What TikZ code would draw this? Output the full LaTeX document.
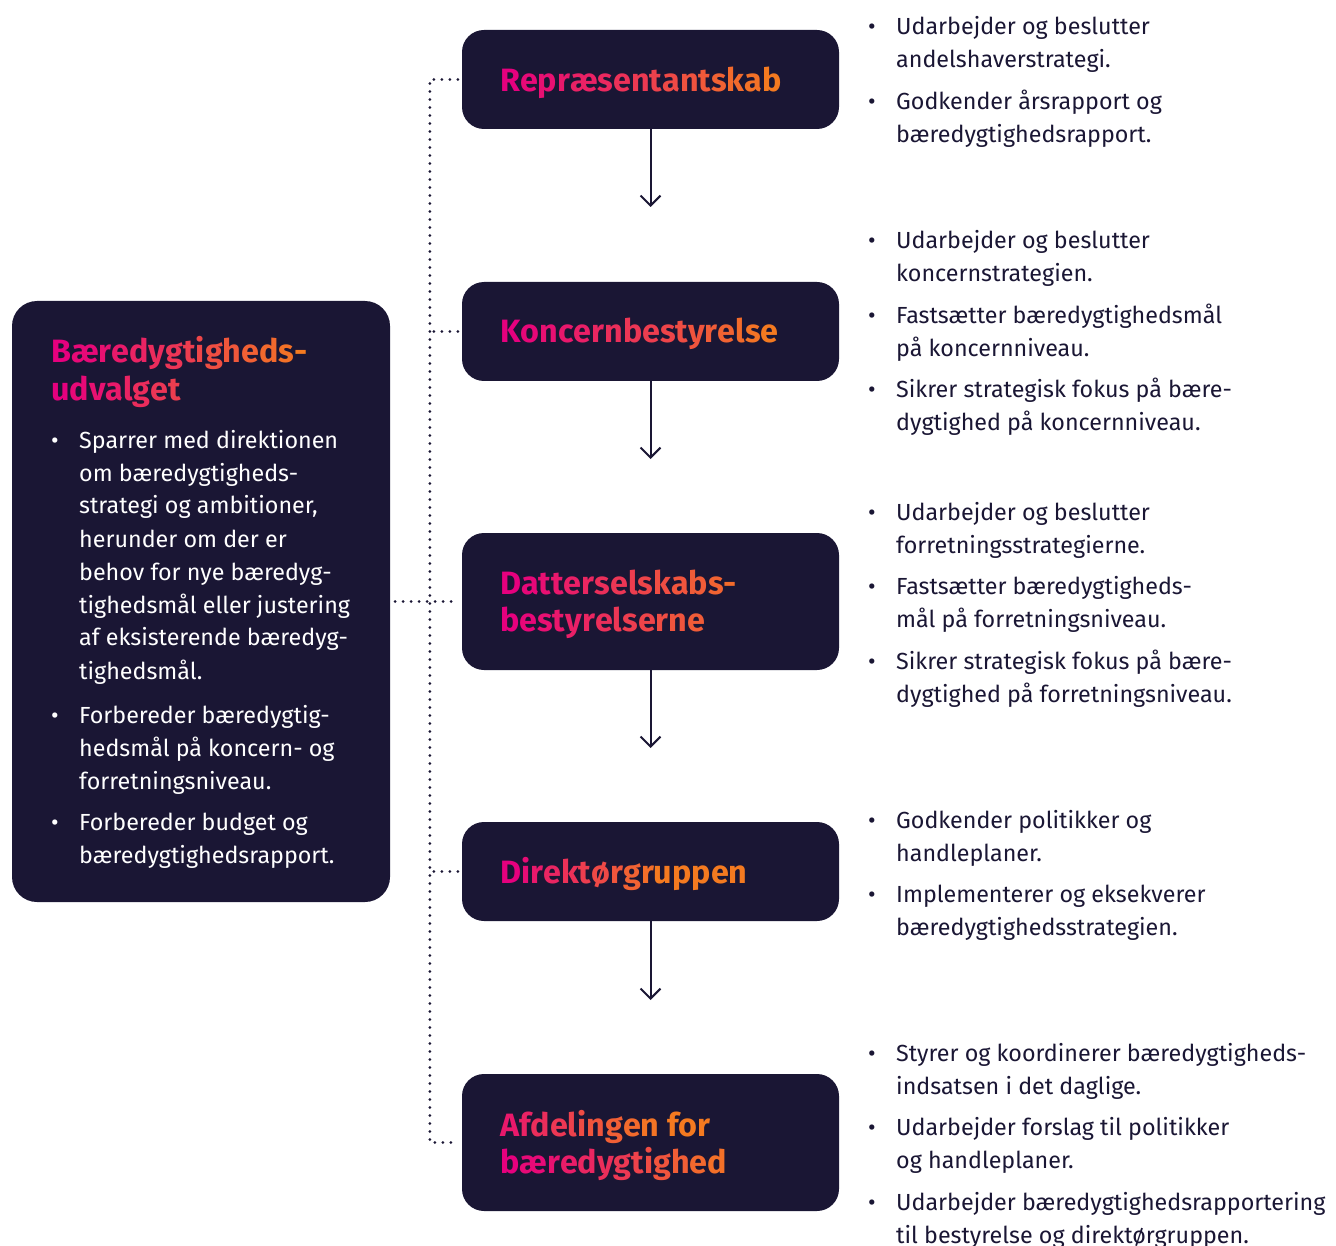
\documentclass[tikz,border=0pt]{standalone}
\usepackage{fontspec}
\setmainfont{Fira Sans}
\usetikzlibrary{arrows.meta}
\definecolor{navy}{HTML}{1A1634}
\definecolor{gpink}{HTML}{E6007E}
\definecolor{gorange}{HTML}{F47A20}
\ExplSyntaxOn
\int_new:N \l_grd_i_int
\int_new:N \l_grd_p_int
\NewDocumentCommand \gradline { m m m }
  {
    \group_begin:
    \int_zero:N \l_grd_i_int
    \str_map_inline:nn {#3}
      {
        \int_set:Nn \l_grd_p_int
          { \int_max:nn {0} { \int_min:nn {100} { 100 - #1 - ( 100 * \l_grd_i_int ) / #2 } } }
        \exp_args:Nx \color { gpink!\int_use:N \l_grd_p_int !gorange }
        {##1}
        \int_incr:N \l_grd_i_int
      }
    \group_end:
  }
\ExplSyntaxOff
\newcommand\bi[1]{\makebox[28pt][l]{\textbullet}\begin{tabular}[t]{@{}l@{}}#1\end{tabular}}
\tikzset{
  box/.style={fill=navy, draw=none, rounded corners=22pt, inner sep=0pt},
  ttl/.style={anchor=base west, inner sep=0pt, font=\fontsize{32.3}{37}\selectfont\bfseries},
  itm/.style={anchor=base west, inner sep=0pt, font=\fontsize{23.3}{33}\selectfont, text=navy},
  litm/.style={itm, text=white},
  arr/.style={draw=navy, line width=2pt, -{Straight Barb[length=10pt,width=20pt,line width=2pt]}},
  dotl/.style={draw=navy, line width=3pt, line cap=round, dash pattern=on 0pt off 8pt},
}
\begin{document}
\begin{tikzpicture}[x=1pt,y=-1pt]
\useasboundingbox (0,0) rectangle (1336,1246);
% boxes
\node[box, rounded corners=25pt, minimum width=378, minimum height=601] (left) at (201,601.5) {};
\node[box, minimum width=377, minimum height=99]  (b1) at (650.5,79.5) {};
\node[box, minimum width=377, minimum height=99]  (b2) at (650.5,331.5) {};
\node[box, minimum width=377, minimum height=137] (b3) at (650.5,601.5) {};
\node[box, minimum width=377, minimum height=99]  (b4) at (650.5,871.5) {};
\node[box, minimum width=377, minimum height=137] (b5) at (650.5,1142.5) {};
% titles
\node[ttl] (t1) at (500,92) {\gradline{0}{15}{Repræsentantskab}};
\node[ttl] (t2) at (500,343) {\gradline{0}{16}{Koncernbestyrelse}};
\node[ttl] (t3) at (500,594) {\begin{tabular}[t]{@{}l@{}}\gradline{0}{16}{Datterselskabs-}\\\gradline{0}{16}{bestyrelserne}\end{tabular}};
\node[ttl] (t4) at (500,883) {\gradline{0}{10}{Direktørgruppen}};
\node[ttl] (t5) at (500,1136) {\begin{tabular}[t]{@{}l@{}}\gradline{20}{12}{Afdelingen for}\\\gradline{0}{13}{bæredygtighed}\end{tabular}};
\node[ttl] (tl) at (51,363) {\begin{tabular}[t]{@{}l@{}}\gradline{0}{14}{Bæredygtigheds-}\\\gradline{0}{14}{udvalget}\end{tabular}};
% left bullets
\node[litm] (l1) at (51,448) {\bi{Sparrer med direktionen\\om bæredygtigheds-\\strategi og ambitioner,\\herunder om der er\\behov for nye bæredyg-\\tighedsmål eller justering\\af eksisterende bæredyg-\\tighedsmål.}};
\node[litm] (l2) at (51,723) {\bi{Forbereder bæredygtig-\\hedsmål på koncern- og\\forretningsniveau.}};
\node[litm] (l3) at (51,830) {\bi{Forbereder budget og\\bæredygtighedsrapport.}};
% right bullets
\node[itm] (r11) at (868,35) {\bi{Udarbejder og beslutter\\andelshaverstrategi.}};
\node[itm] (r12) at (868,110) {\bi{Godkender årsrapport og\\bæredygtighedsrapport.}};
\node[itm] (r21) at (868,249) {\bi{Udarbejder og beslutter\\koncernstrategien.}};
\node[itm] (r22) at (868,324) {\bi{Fastsætter bæredygtighedsmål\\på koncernniveau.}};
\node[itm] (r23) at (868,398) {\bi{Sikrer strategisk fokus på bære-\\dygtighed på koncernniveau.}};
\node[itm] (r31) at (868,520) {\bi{Udarbejder og beslutter\\forretningsstrategierne.}};
\node[itm] (r32) at (868,594) {\bi{Fastsætter bæredygtigheds-\\mål på forretningsniveau.}};
\node[itm] (r33) at (868,669) {\bi{Sikrer strategisk fokus på bære-\\dygtighed på forretningsniveau.}};
\node[itm] (r41) at (868,828) {\bi{Godkender politikker og\\handleplaner.}};
\node[itm] (r42) at (868,902) {\bi{Implementerer og eksekverer\\bæredygtighedsstrategien.}};
\node[itm] (r51) at (868,1061) {\bi{Styrer og koordinerer bæredygtigheds-\\indsatsen i det daglige.}};
\node[itm] (r52) at (868,1135) {\bi{Udarbejder forslag til politikker\\og handleplaner.}};
\node[itm] (r53) at (868,1210) {\bi{Udarbejder bæredygtighedsrapportering\\til bestyrelse og direktørgruppen.}};
% arrows
\coordinate (a1) at (650.5,207);
\coordinate (a2) at (650.5,459);
\coordinate (a3) at (650.5,748);
\coordinate (a4) at (650.5,1000);
\draw[arr] (b1.south) -- (a1);
\draw[arr] (b2.south) -- (a2);
\draw[arr] (b3.south) -- (a3);
\draw[arr] (b4.south) -- (a4);
% dotted links
\draw[dotl] ([xshift=-4pt]b1.west) -- ++(-28,0) |- ([xshift=-4pt]b5.west);
\draw[dotl] ([xshift=-4pt]b2.west) -- ++(-28,0);
\draw[dotl] ([xshift=-4pt]b4.west) -- ++(-28,0);
\draw[dotl] ([xshift=5pt]left.east |- b3.west) -- ([xshift=-4pt]b3.west);
\end{tikzpicture}
\end{document}
